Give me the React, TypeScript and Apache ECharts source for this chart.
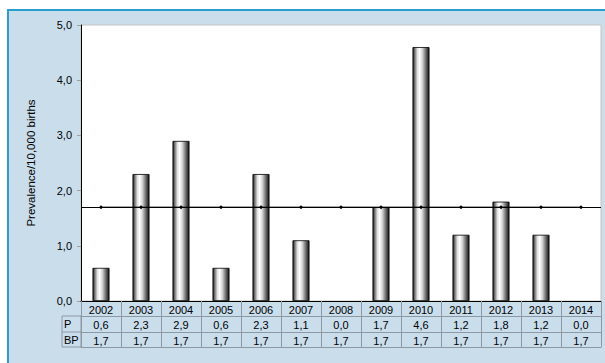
import React, { useEffect, useRef } from "react";
import * as echarts from "echarts";

// Prevalence per 10,000 births by year, with the baseline prevalence (BP)
const years = ["2002", "2003", "2004", "2005", "2006", "2007", "2008", "2009", "2010", "2011", "2012", "2013", "2014"];
const prevalence = [0.6, 2.3, 2.9, 0.6, 2.3, 1.1, 0.0, 1.7, 4.6, 1.2, 1.8, 1.2, 0.0];
const baseline = [1.7, 1.7, 1.7, 1.7, 1.7, 1.7, 1.7, 1.7, 1.7, 1.7, 1.7, 1.7, 1.7];
const rowLabels = ["P", "BP"];

const fmt = (v: number) => v.toFixed(1).replace(".", ",");

const FONT = "Liberation Sans, Arial, sans-serif";
const TABLE_LINE = "#8c98a3";

export default function App() {
  const ref = useRef<HTMLDivElement>(null);

  useEffect(() => {
    document.body.style.margin = "0";
    const chart = echarts.init(ref.current!, null, { renderer: "svg" });

    const barFill = new echarts.graphic.LinearGradient(0, 0, 1, 0, [
      { offset: 0, color: "#111111" },
      { offset: 0.1, color: "#6a6a6a" },
      { offset: 0.28, color: "#e2e2e2" },
      { offset: 0.42, color: "#ffffff" },
      { offset: 0.58, color: "#d4d4d4" },
      { offset: 0.78, color: "#767676" },
      { offset: 1, color: "#111111" },
    ]);

    const tableAxis = (values: string[], offset: number, showLabel: boolean) => ({
      type: "category",
      data: values,
      position: "bottom",
      offset,
      axisLine: { show: true, lineStyle: { color: TABLE_LINE, width: 1 } },
      axisTick: { show: false },
      axisLabel: {
        show: showLabel,
        interval: 0,
        margin: 3,
        color: "#000",
        fontSize: 11,
        fontFamily: FONT,
      },
      splitLine: { show: false },
    });

    chart.setOption({
      animation: false,
      backgroundColor: "#ffffff",
      textStyle: { fontFamily: FONT },
      graphic: [
        {
          type: "rect",
          z: -10,
          shape: { x: 8, y: 10, width: 640, height: 400 },
          style: { fill: "#c9ddeb", stroke: "#2b9bd3", lineWidth: 2 },
        },
        {
          type: "rect",
          z: 10,
          shape: { x: 62, y: 316, width: 19, height: 31 },
          style: { fill: "none", stroke: TABLE_LINE, lineWidth: 1 },
        },
        {
          type: "line",
          z: 10,
          shape: { x1: 62, y1: 332, x2: 81, y2: 332 },
          style: { stroke: TABLE_LINE, lineWidth: 1 },
        },
        ...rowLabels.map((t, i) => ({
          type: "text",
          z: 10,
          x: 64,
          y: 324 + i * 16,
          style: {
            text: t,
            fill: "#000",
            font: `11px ${FONT}`,
            textAlign: "left",
            textVerticalAlign: "middle",
          },
        })),
      ],
      grid: {
        left: 81,
        top: 25,
        right: 4,
        bottom: 62,
        show: true,
        backgroundColor: "#ffffff",
        borderColor: "#c4c4c4",
        borderWidth: 1,
      },
      xAxis: [
        {
          type: "category",
          data: years,
          position: "bottom",
          axisLine: { show: true, lineStyle: { color: "#000", width: 1 } },
          axisTick: {
            show: true,
            interval: 0,
            length: 46,
            lineStyle: { color: TABLE_LINE, width: 1 },
          },
          axisLabel: {
            interval: 0,
            margin: 3,
            color: "#000",
            fontSize: 11,
            fontFamily: FONT,
          },
          splitLine: { show: false },
          z: 5,
        },
        tableAxis(prevalence.map(fmt), 15, true),
        tableAxis(baseline.map(fmt), 31, true),
        tableAxis(years.map(() => ""), 46, false),
      ],
      yAxis: {
        type: "value",
        min: 0,
        max: 5,
        interval: 1,
        name: "Prevalence/10,000 births",
        nameLocation: "middle",
        nameGap: 44,
        nameTextStyle: { color: "#000", fontSize: 11.5, fontFamily: FONT },
        axisLine: { show: true, lineStyle: { color: "#000", width: 1 } },
        axisTick: { show: true, length: 4, lineStyle: { color: "#a0a0a0" } },
        axisLabel: {
          formatter: (v: number) => fmt(v),
          margin: 9,
          color: "#000",
          fontSize: 11,
          fontFamily: FONT,
        },
        splitLine: { show: false },
      },
      series: [
        {
          name: "P",
          type: "bar",
          xAxisIndex: 0,
          // zero-height bars get no outline so nothing shows for empty years
          data: prevalence.map((v) => ({
            value: v,
            itemStyle: v === 0 ? { borderWidth: 0 } : undefined,
          })),
          barWidth: 17,
          itemStyle: { color: barFill, borderColor: "#000", borderWidth: 0.8 },
        },
        {
          name: "BP",
          type: "line",
          xAxisIndex: 0,
          data: baseline,
          symbol: "diamond",
          symbolSize: 4,
          itemStyle: { color: "#000" },
          lineStyle: { color: "#000", width: 1 },
          z: 4,
          markLine: {
            silent: true,
            symbol: ["none", "none"],
            label: { show: false },
            lineStyle: { color: "#000", width: 1, type: "solid" },
            data: [{ yAxis: baseline[0] }],
          },
        },
      ],
    });

    return () => chart.dispose();
  }, []);

  return <div ref={ref} style={{ width: 605, height: 363 }} />;
}
